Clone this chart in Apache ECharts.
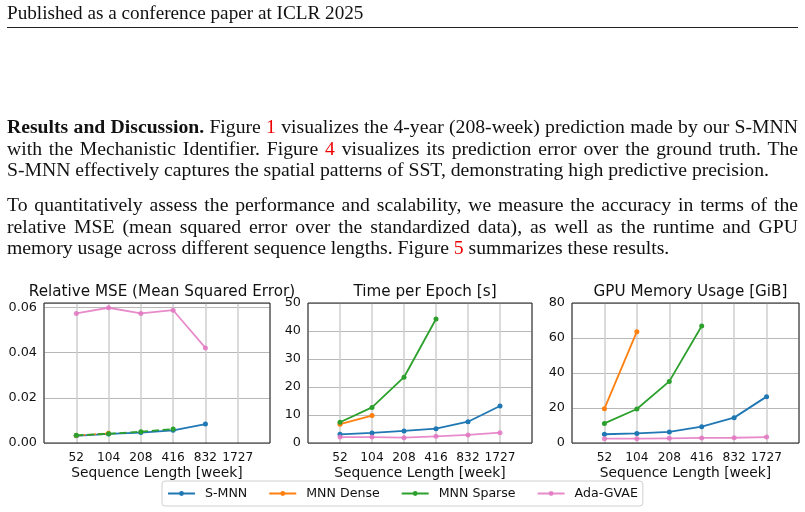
<!DOCTYPE html>
<html>
<head>
<meta charset="utf-8">
<script src="https://cdn.jsdelivr.net/npm/echarts@6/dist/echarts.min.js"></script>
<style>
  body { margin: 0; background: #fff; }
  #page { position: relative; width: 805px; height: 512px; overflow: hidden; }
  #chart { position: absolute; left: 0; top: 0; width: 805px; height: 512px; }
  .txt { position: absolute; left: 7px; width: 791px; font-family: "Liberation Serif", "DejaVu Serif", serif; color: #111; }
  .hdr { top: 3px; font-size: 19.2px; line-height: 20px; }
  .rule { position: absolute; left: 7px; width: 791px; top: 27px; height: 1px; background: #222; }
  .para { font-size: 19.7px; line-height: 21.5px; }
  .para div { text-align: justify; text-align-last: justify; white-space: nowrap; }
  .para div.last { text-align-last: left; }
  .ref { color: #e00; }
</style>
</head>
<body>
<div id="page">
  <div id="chart"></div>
  <div class="txt hdr">Published as a conference paper at ICLR 2025</div>
  <div class="rule"></div>
  <div class="txt para" style="top:116px">
    <div><b>Results and Discussion.</b> Figure <span class="ref">1</span> visualizes the 4-year (208-week) prediction made by our S-MNN</div>
    <div>with the Mechanistic Identifier. Figure <span class="ref">4</span> visualizes its prediction error over the ground truth. The</div>
    <div class="last">S-MNN effectively captures the spatial patterns of SST, demonstrating high predictive precision.</div>
  </div>
  <div class="txt para" style="top:194px">
    <div>To quantitatively assess the performance and scalability, we measure the accuracy in terms of the</div>
    <div>relative MSE (mean squared error over the standardized data), as well as the runtime and GPU</div>
    <div class="last">memory usage across different sequence lengths. Figure <span class="ref">5</span> summarizes these results.</div>
  </div>
</div>

<script>
    // x tick labels (sequence length in weeks)
    const seqLabels = ['52', '104', '208', '416', '832', '1727'];
    const seriesNames = ['S-MNN', 'MNN Dense', 'MNN Sparse', 'Ada-GVAE'];
    const panelTitles = ['Relative MSE (Mean Squared Error)', 'Time per Epoch [s]', 'GPU Memory Usage [GiB]'];

    // relative MSE
    const mseSMNN   = [0.0032, 0.0040, 0.0046, 0.0056, 0.0084];
    const mseDense  = [0.0033, 0.0043];
    const mseSparse = [0.0034, 0.0041, 0.0050, 0.0062];
    const mseAda    = [0.0574, 0.0599, 0.0574, 0.0588, 0.0421];

    // time per epoch [s]
    const timeSMNN   = [3.1, 3.6, 4.3, 5.1, 7.6, 13.2];
    const timeDense  = [6.7, 9.8];
    const timeSparse = [7.4, 12.7, 23.5, 44.3];
    const timeAda    = [2.1, 2.1, 1.9, 2.4, 2.9, 3.7];

    // GPU memory [GiB]
    const memSMNN   = [5.0, 5.5, 6.3, 9.3, 14.5, 26.5];
    const memDense  = [19.6, 63.6];
    const memSparse = [11.2, 19.4, 35.2, 66.9];
    const memAda    = [2.5, 2.5, 2.7, 2.9, 3.0, 3.4];

    const colors = ['#1f77b4', '#ff7f0e', '#2ca02c', '#e377c2'];
    const font = 'DejaVu Sans';

    const panels = [
        { left: 44, width: 226, max: 0.062, interval: 0.02, fmt: v => v.toFixed(2),
          data: [mseSMNN, mseDense, mseSparse, mseAda], styles: ['solid', 'dotted', 'dashed', 'solid'] },
        { left: 308, width: 224, max: 50, interval: 10, fmt: v => String(v),
          data: [timeSMNN, timeDense, timeSparse, timeAda], styles: ['solid', 'solid', 'solid', 'solid'] },
        { left: 572, width: 227, max: 80, interval: 20, fmt: v => String(v),
          data: [memSMNN, memDense, memSparse, memAda], styles: ['solid', 'solid', 'solid', 'solid'] }
    ];

    const grid = [], xAxis = [], yAxis = [], title = [], series = [];

    panels.forEach((p, i) => {
        grid.push({ left: p.left, top: 303, width: p.width, height: 140, show: true,
            borderColor: '#222', borderWidth: 1, backgroundColor: 'transparent', z: 5 });
        title.push({ text: panelTitles[i], left: p.left + p.width / 2, top: 280, textAlign: 'center',
            textStyle: { fontFamily: font, fontSize: 15.2, fontWeight: 'normal', color: '#111' } });
        xAxis.push({
            type: 'value', gridIndex: i, min: -1, max: 6, interval: 1,
            name: 'Sequence Length [week]', nameLocation: 'middle', nameGap: 23,
            nameTextStyle: { fontFamily: font, fontSize: 13.8, color: '#111' },
            axisLine: { show: false }, axisTick: { show: false },
            axisLabel: { margin: 9, fontFamily: font, fontSize: 12.2, color: '#111',
                formatter: v => (v >= 0 && v <= 5) ? seqLabels[v] : '' },
            splitLine: { show: true, lineStyle: { color: '#cfcfcf', width: 1.5 } }
        });
        yAxis.push({
            type: 'value', gridIndex: i, min: 0, max: p.max, interval: p.interval,
            axisLine: { show: false }, axisTick: { show: false },
            axisLabel: { margin: 7, fontFamily: font, fontSize: 12.8, color: '#111',
                formatter: v => {
                    const k = v / p.interval;
                    return Math.abs(k - Math.round(k)) < 1e-6 ? p.fmt(v) : '';
                } },
            splitLine: { show: true, lineStyle: { color: '#b8b8b8', width: 1 } }
        });
        p.data.forEach((vals, s) => {
            series.push({
                name: seriesNames[s], type: 'line', xAxisIndex: i, yAxisIndex: i,
                data: vals.map((v, k) => [k, v]),
                symbol: 'circle', symbolSize: 5, showSymbol: true,
                color: colors[s],
                lineStyle: { width: 1.8, type: p.styles[s], opacity: s === 3 ? 0.85 : 1 },
                itemStyle: { color: colors[s], opacity: s === 3 ? 0.85 : 1 },
                animation: false, z: 2 + s
            });
        });
    });

    const chart = echarts.init(document.getElementById('chart'));
    chart.setOption({
        animation: false,
        title: title,
        grid: grid,
        xAxis: xAxis,
        yAxis: yAxis,
        legend: {
            data: seriesNames, left: 162, top: 481, width: 640,
            itemWidth: 27, itemHeight: 6, itemGap: 21,
            lineStyle: { type: 'solid' },
            padding: [6, 5], borderColor: '#d0d0d0', borderWidth: 1, borderRadius: 3,
            textStyle: { fontFamily: font, fontSize: 12.6, color: '#111', padding: [0, 0, 0, 5] }
        },
        series: series
    });
</script>
</body>
</html>
